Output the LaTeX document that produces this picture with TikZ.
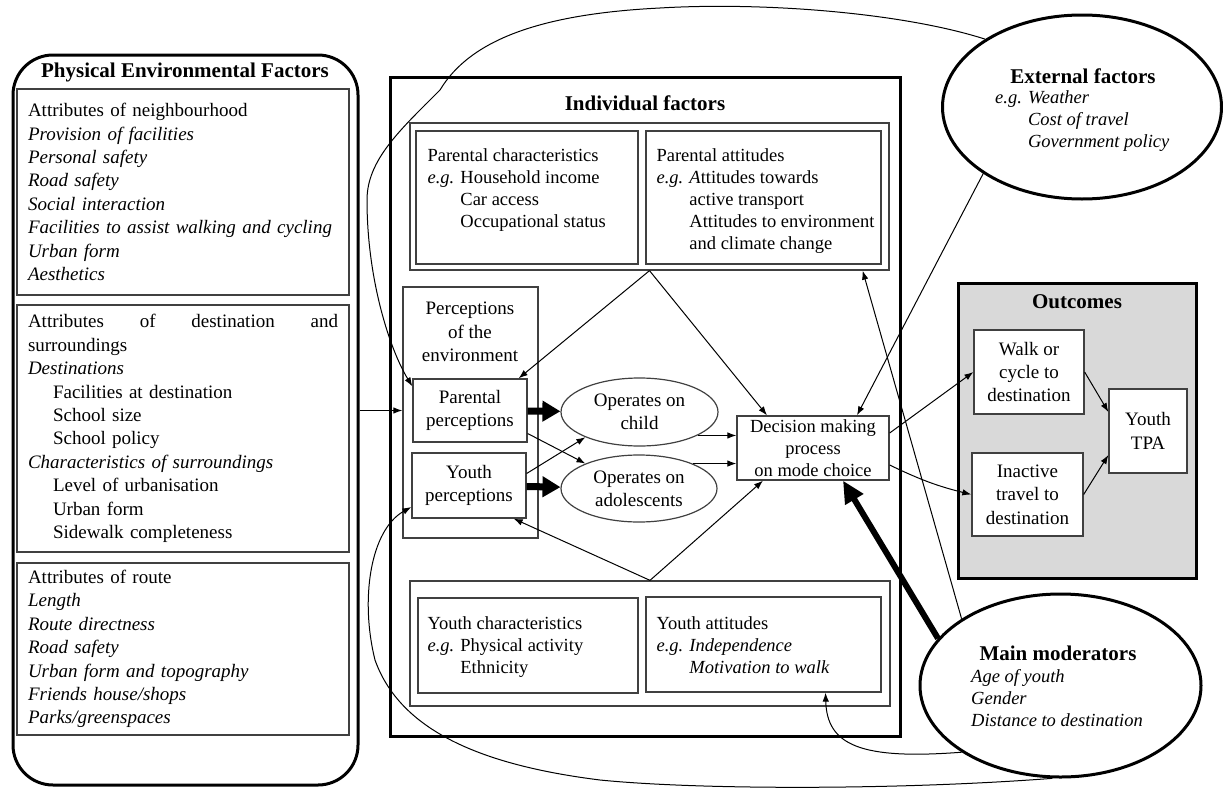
\documentclass[tikz,border=0pt]{standalone}
\usepackage{fontspec}
\setmainfont{Liberation Serif}
\usetikzlibrary{arrows.meta,shapes.geometric}
\tikzset{>={Latex[length=9pt,width=6.5pt]}}
\tikzstyle{box} = [draw=black!75, line width=1.3pt, inner sep=0pt]
\tikzstyle{heavy} = [draw, line width=3pt, inner sep=0pt]
\tikzstyle{oval} = [ellipse, draw=black!75, line width=1.2pt, inner sep=0pt, align=center]
\tikzstyle{bigoval} = [ellipse, draw, line width=3pt, inner sep=0pt]
\tikzstyle{txt} = [inner sep=0pt, align=left, anchor=north west, font=\fontsize{18.5}{22}\selectfont]
\tikzstyle{ttl} = [inner sep=0pt, font=\fontsize{21}{25}\selectfont\bfseries]
\tikzstyle{arrow} = [line width=1pt,->]
\tikzstyle{fat} = [line width=7pt,-{Triangle[length=18pt,width=20pt]}]
\newcommand{\egpad}{\phantom{\textit{e.g.} }}
\newcommand{\indnt}{\hspace*{25pt}}

\begin{document}
\begin{tikzpicture}[x=1pt, y=-1pt, every node/.style={font=\fontsize{19}{23.4}\selectfont}]
\useasboundingbox (0,0) rectangle (1223,787);

% physical environmental factors
\node[heavy, rounded corners=40pt, minimum width=345pt, minimum height=730pt] (phys) at (185.5,420) {};
\node[ttl] (phys-t) at (185,72) {Physical Environmental Factors};
\node[box, minimum width=332pt, minimum height=206pt, text width=310pt, align=left] (pe1) at (183,192)
  {Attributes of neighbourhood\\\textit{Provision of facilities}\\\textit{Personal safety}\\\textit{Road safety}\\
   \textit{Social interaction}\\\textit{Facilities to assist walking and cycling}\\\textit{Urban form}\\\textit{Aesthetics}};
\node[box, minimum width=332pt, minimum height=247pt, text width=310pt, align=left] (pe2) at (183,428.5)
  {Attributes\hfill of\hfill destination\hfill and\\surroundings\\\textit{Destinations}\\
   \indnt Facilities at destination\\\indnt School size\\\indnt School policy\\
   \textit{Characteristics of surroundings}\\\indnt Level of urbanisation\\\indnt Urban form\\\indnt Sidewalk completeness};
\node[box, minimum width=332pt, minimum height=172pt, text width=310pt, align=left] (pe3) at (183,649)
  {Attributes of route\\\textit{Length}\\\textit{Route directness}\\\textit{Road safety}\\
   \textit{Urban form and topography}\\\textit{Friends house/shops}\\\textit{Parks/greenspaces}};

% individual factors
\node[heavy, minimum width=510pt, minimum height=659pt] (indiv) at (645,406.5) {};
\node[ttl] (indiv-t) at (645,103) {Individual factors};
\node[box, minimum width=479pt, minimum height=147pt] (par) at (649.5,196.5) {};
\node[box, minimum width=222pt, minimum height=133pt] (pc) at (527,197.5) {};
\node[box, minimum width=235pt, minimum height=133pt] (pa) at (763.5,197.5) {};
\node[txt] (pc-t) at ([xshift=12pt,yshift=-18pt]pc.north west)
  {Parental characteristics\\\textit{e.g.} Household income\\\egpad Car access\\\egpad Occupational status};
\node[txt] (pa-t) at ([xshift=11pt,yshift=-18pt]pa.north west)
  {Parental attitudes\\\textit{e.g. A}ttitudes towards\\\egpad active transport\\\egpad Attitudes to environment\\\egpad and climate change};

\node[box, minimum width=135pt, minimum height=251pt] (perc) at (470.5,412.5) {};
\node[align=center, inner sep=0pt] (perc-t) at (470,332) {Perceptions\\of the\\environment};
\node[box, minimum width=114pt, minimum height=63pt, align=center] (ppar) at (470,410.5) {Parental\\perceptions};
\node[box, minimum width=114pt, minimum height=65pt, align=center] (pyou) at (469,485.5) {Youth\\perceptions};
\node[oval, minimum width=157pt, minimum height=68pt] (opch) at (639.5,412) {Operates on\\child};
\node[oval, minimum width=156pt, minimum height=67pt] (opad) at (639,488.5) {Operates on\\adolescents};
\node[box, minimum width=152pt, minimum height=64pt, align=center, font=\fontsize{18.5}{22}\selectfont] (dec) at (813,448)
  {Decision making\\process\\on mode choice};

\node[box, minimum width=480pt, minimum height=125pt] (you) at (650,643.5) {};
\node[box, minimum width=220pt, minimum height=95pt] (yc) at (528,645.5) {};
\node[box, minimum width=235pt, minimum height=95pt] (ya) at (763.5,644.5) {};
\node[txt] (yc-t) at ([xshift=10pt,yshift=-19pt]yc.north west)
  {Youth characteristics\\\textit{e.g.} Physical activity\\\egpad Ethnicity};
\node[txt] (ya-t) at ([xshift=11pt,yshift=-20pt]ya.north west)
  {Youth attitudes\\\textit{e.g. Independence}\\\egpad\textit{Motivation to walk}};

% outcomes
\node[heavy, fill=black!15, minimum width=238pt, minimum height=295pt] (outc) at (1077,430.5) {};
\node[ttl] (outc-t) at (1077,302) {Outcomes};
\node[box, fill=white, minimum width=110pt, minimum height=84pt, align=center] (walk) at (1029,372) {Walk or\\cycle to\\destination};
\node[box, fill=white, minimum width=111pt, minimum height=83pt, align=center] (inact) at (1027.5,494.5) {Inactive\\travel to\\destination};
\node[box, fill=white, minimum width=78pt, minimum height=84pt, align=center] (tpa) at (1148,431) {Youth\\TPA};

% external factors and moderators
\node[bigoval, minimum width=279pt, minimum height=184pt] (ext) at (1082,107) {};
\node[ttl] (ext-t) at (1083,76) {External factors};
\node[txt] (ext-l) at (995,90) {\textit{e.g. Weather}\\\egpad\textit{Cost of travel}\\\egpad\textit{Government policy}};
\node[bigoval, minimum width=281pt, minimum height=183pt] (mod) at (1060.5,685.5) {};
\node[ttl] (mod-t) at (1058,653) {Main moderators};
\node[txt] (mod-l) at (971,669) {\textit{Age of youth}\\\textit{Gender}\\\textit{Distance to destination}};

% connectors
\draw[arrow] (ppar.west -| phys.east) -- (ppar.west -| perc.west);
\draw[arrow] (ext.145) .. controls (900,12) and (760,2) .. (660,8)
  .. controls (540,14) and (470,40) .. (440,90)
  .. controls (400,130) and (367,160) .. (367,200)
  .. controls (367,280) and (390,350) .. ([yshift=-8pt]ppar.north west);
\draw[arrow] (mod.265) .. controls (900,790) and (700,790) .. (600,780)
  .. controls (480,765) and (400,730) .. (375,660)
  .. controls (360,600) and (370,530) .. ([yshift=-21.5pt]pyou.west);
\draw[arrow] (mod.214) .. controls (860,760) and (827,745) .. ([xshift=62pt]ya.south);
\draw[arrow] (mod.146) -- ([xshift=-27pt]par.south east);
\draw[line width=6pt,-{Triangle[length=22pt,width=20pt]}] (mod.159) -- ([xshift=30pt]dec.south);
\draw[arrow] (ext.214) -- ([xshift=44pt]dec.north);
\draw[arrow] (par.south) -- ([xshift=-9pt]ppar.north east);
\draw[arrow] (par.south) -- ([xshift=-46pt]dec.north);
\draw[arrow] (you.north) -- ([xshift=-13pt]pyou.south east);
\draw[arrow] (you.north) -- ([xshift=-50pt]dec.south);
\draw[fat] (ppar) -- (opch);
\draw[fat] (pyou) -- (opad);
\draw[arrow] ([yshift=-23pt]ppar.east) -- (opad.155);
\draw[arrow] ([yshift=12pt]pyou.east) -- (opch.205);
\draw[arrow] (opch.338) -- (opch.338 -| dec.west);
\draw[arrow] (opad.25) -- (opad.25 -| dec.west);
\draw[arrow] ([yshift=15pt]dec.east) -- (walk.west);
\draw[arrow] ([yshift=-17pt]dec.east) to[bend right=6] (inact.west);
\draw[arrow] (walk.east) -- ([yshift=19pt]tpa.west);
\draw[arrow] (inact.east) -- ([yshift=-24pt]tpa.west);

\end{tikzpicture}
\end{document}
